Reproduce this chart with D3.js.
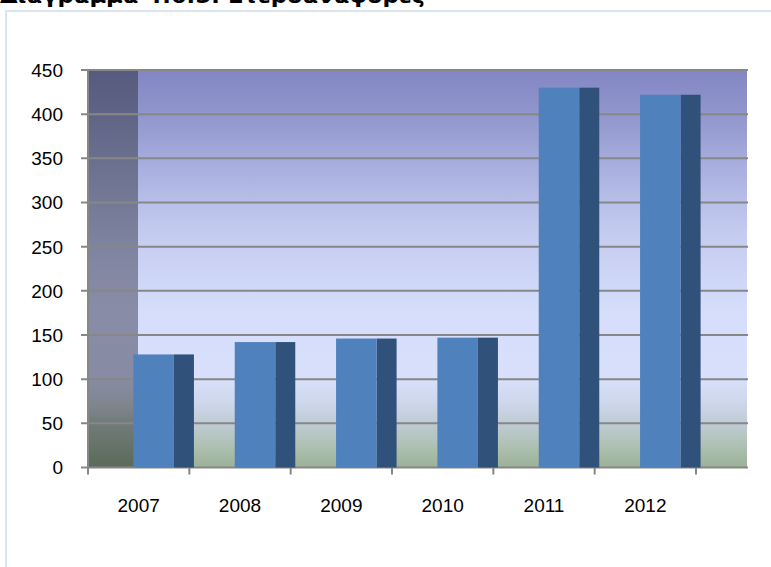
<!DOCTYPE html>
<html>
<head>
<meta charset="utf-8">
<script src="https://cdn.jsdelivr.net/npm/d3@7/dist/d3.min.js"></script>
<style>
  html, body { margin: 0; padding: 0; background: #ffffff; }
  svg { display: block; }
</style>
</head>
<body>
<svg id="chart" width="771" height="567"></svg>
<script>
// ---- data ----
const title = "Διάγραμμα 4.6.5: Ετεροαναφορές";
const years = ["2007", "2008", "2009", "2010", "2011", "2012"];
const values = [128, 142, 146, 147, 430, 422];
const yTicks = [0, 50, 100, 150, 200, 250, 300, 350, 400, 450];

// ---- layout ----
const W = 771, H = 567;
const frontLeft = 88, frontRight = 696;   // front plane of the 3D box
const depth = 50;                          // oblique depth offset (horizontal only)
const barDepthFront = 15, barDepthSide = 20;
const yTop = 70, yBottom = 467.5;

const svg = d3.select("#chart");

const x = d3.scaleBand().domain(years).range([frontLeft, frontRight])
  .paddingInner(0.6).paddingOuter(0.3);
const xCat = d3.scaleBand().domain(years).range([frontLeft, frontRight]).padding(0);
const y = d3.scaleLinear().domain([0, 450]).range([yBottom, yTop]);

const defs = svg.append("defs");
function vGrad(id, stops) {
  const g = defs.append("linearGradient").attr("id", id)
    .attr("gradientUnits", "userSpaceOnUse")
    .attr("x1", 0).attr("x2", 0).attr("y1", yTop).attr("y2", yBottom);
  stops.forEach(s => g.append("stop").attr("offset", s[0]).attr("stop-color", s[1]));
}
vGrad("backWall", [
  [0, "#8386c3"], [0.12, "#9297cd"], [0.25, "#aab0df"], [0.4, "#c3caef"],
  [0.6, "#d5ddfb"], [0.78, "#d8e0fb"], [0.84, "#cdd6ea"], [0.89, "#bfcbd3"],
  [0.95, "#adc0b1"], [1, "#9bb196"]
]);
vGrad("sideWall", [
  [0, "#555a7f"], [0.22, "#6a6f8d"], [0.45, "#7f84a0"], [0.6, "#888ca6"],
  [0.78, "#878ba3"], [0.84, "#80868f"], [0.89, "#717b79"], [1, "#5b6a59"]
]);

// walls
svg.append("rect").attr("x", frontLeft + depth).attr("y", y(450))
  .attr("width", (frontRight + depth) - (frontLeft + depth) + 1)
  .attr("height", y(0) - y(450)).attr("fill", "url(#backWall)");
svg.append("rect").attr("x", frontLeft).attr("y", y(450))
  .attr("width", depth).attr("height", y(0) - y(450)).attr("fill", "url(#sideWall)");

// gridlines (side wall + back wall) and y tick marks
const gridColor = "#878787";
svg.append("g").selectAll("line").data(yTicks).join("line")
  .attr("x1", frontLeft - 7).attr("x2", frontRight + depth + 2)
  .attr("y1", d => y(d)).attr("y2", d => y(d))
  .attr("stroke", gridColor).attr("stroke-width", 2);

// y axis line
svg.append("line").attr("x1", frontLeft).attr("x2", frontLeft)
  .attr("y1", y(450) - 1).attr("y2", y(0) + 1)
  .attr("stroke", gridColor).attr("stroke-width", 2);

// x axis ticks at category boundaries
const bounds = years.map(d => xCat(d)).concat([frontRight]);
svg.append("g").selectAll("line").data(bounds).join("line")
  .attr("x1", d => d).attr("x2", d => d)
  .attr("y1", y(0)).attr("y2", y(0) + 7)
  .attr("stroke", gridColor).attr("stroke-width", 2);

// bars: front face and side face
const bars = svg.append("g");
bars.selectAll("rect.side").data(years).join("rect").attr("class", "side")
  .attr("x", d => x(d) + barDepthFront + x.bandwidth())
  .attr("y", (d, i) => y(values[i]))
  .attr("width", barDepthSide)
  .attr("height", (d, i) => y(0) - y(values[i]))
  .attr("fill", "#30527a");
bars.selectAll("rect.front").data(years).join("rect").attr("class", "front")
  .attr("x", d => x(d) + barDepthFront)
  .attr("y", (d, i) => y(values[i]))
  .attr("width", x.bandwidth())
  .attr("height", (d, i) => y(0) - y(values[i]))
  .attr("fill", "#4f81bd");

// y tick labels
const font = "'Liberation Sans', Arial, sans-serif";
svg.append("g").selectAll("text").data(yTicks).join("text")
  .attr("x", 63).attr("y", d => y(d)).attr("dy", "0.36em")
  .attr("text-anchor", "end")
  .style("font-family", font).style("font-size", "19px").attr("fill", "#000")
  .text(d => d);

// x tick labels
svg.append("g").selectAll("text").data(years).join("text")
  .attr("x", d => xCat(d) + xCat.bandwidth() / 2).attr("y", 512)
  .attr("text-anchor", "middle")
  .style("font-family", font).style("font-size", "19px").attr("fill", "#000")
  .text(d => d);

// chart frame (partially visible)
svg.append("path")
  .attr("d", `M6,${H + 2} L6,11 L${W + 2},11`)
  .attr("fill", "none").attr("stroke", "#dbe5f1").attr("stroke-width", 2);

// title (cut off at top)
svg.append("text").attr("x", 0).attr("y", 3)
  .attr("textLength", 425).attr("lengthAdjust", "spacingAndGlyphs")
  .style("font-family", "'DejaVu Sans', Verdana, sans-serif")
  .style("font-weight", "bold").style("font-size", "22px").attr("fill", "#000")
  .text(title);
</script>
</body>
</html>
